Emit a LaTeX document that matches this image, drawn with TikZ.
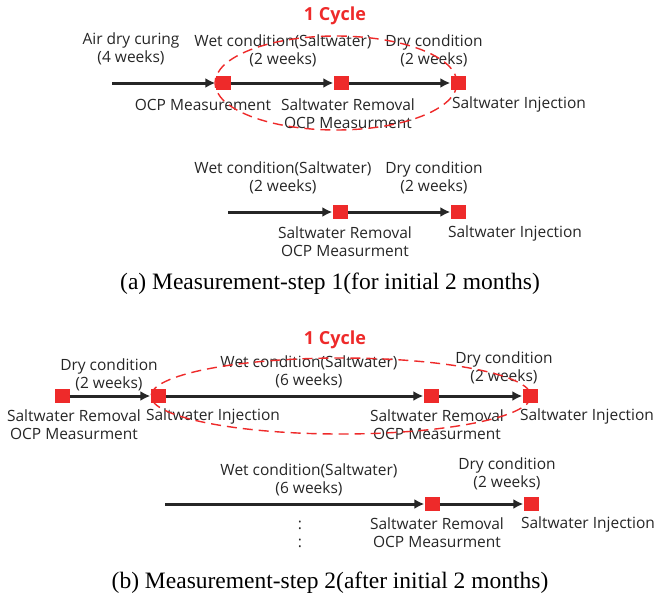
\documentclass[tikz,border=0pt]{standalone}
\usepackage{fontspec}
\setmainfont{Liberation Serif}
\setsansfont{Open Sans}
\usepackage{tikz}
\usetikzlibrary{arrows.meta}
\definecolor{ptred}{HTML}{EE2A2A}
\definecolor{txtgray}{HTML}{262626}

\begin{document}
\begin{tikzpicture}[x=1pt,y=-1pt]
\tikzstyle{every node}+=[inner sep=0pt]
\tikzstyle{pt}=[fill=ptred, minimum width=15pt, minimum height=14pt]
\tikzstyle{lbl}=[font=\sffamily\fontsize{15.5}{18}\selectfont, text=txtgray, align=center]
\tikzstyle{cyc}=[font=\sffamily\bfseries\fontsize{18}{20}\selectfont, text=ptred]
\tikzstyle{captext}=[font=\fontsize{23.5}{26}\selectfont]
\tikzstyle{flow}=[black!85, line width=3pt, -{Latex[length=10pt,width=10pt]}]
\tikzstyle{loopline}=[ptred, line width=1.4pt, dash pattern=on 10pt off 6pt]
\useasboundingbox (0,0) rectangle (663,602);

% (a) first row
\coordinate (a0) at (112,83);
\node[pt] (a1) at (223,83) {};
\node[pt] (a2) at (341,83) {};
\node[pt] (a3) at (458,83) {};
\draw[flow] (a0) -- (a1);
\draw[flow] (a1) -- (a2);
\draw[flow] (a2) -- (a3);
\node[lbl] (air) at (131,49) {Air dry curing\\(4 weeks)};
\node[lbl] (wetA) at (283,51) {Wet condition(Saltwater)\\(2 weeks)};
\node[lbl] (dryA) at (434,51) {Dry condition\\(2 weeks)};
\node[lbl] (ocpA) at (203,105) {OCP Measurement};
\node[lbl] (remA) at (348,114) {Saltwater Removal\\OCP Measurment};
\node[lbl] (injA) at (519,104) {Saltwater Injection};
\node[cyc] (cycA) at (335,16) {1 Cycle};
\draw[loopline] (336,83) ellipse [x radius=121, y radius=47];

% (a) second row
\coordinate (d0) at (228,212);
\node[pt] (d1) at (340,212) {};
\node[pt] (d2) at (458,212) {};
\draw[flow] (d0) -- (d1);
\draw[flow] (d1) -- (d2);
\node[lbl] (wetD) at (283,178) {Wet condition(Saltwater)\\(2 weeks)};
\node[lbl] (dryD) at (434,178) {Dry condition\\(2 weeks)};
\node[lbl] (remD) at (345,242) {Saltwater Removal\\OCP Measurment};
\node[lbl] (injD) at (515,233) {Saltwater Injection};
\node[captext] (capA) at (330,284) {(a) Measurement-step 1(for initial 2 months)};

% (b) first row
\node[pt] (b1) at (62,396) {};
\node[pt] (b2) at (158,396) {};
\node[pt] (b3) at (431,396) {};
\node[pt] (b4) at (530,396) {};
\draw[flow] (b1) -- (b2);
\draw[flow] (b2) -- (b3);
\draw[flow] (b3) -- (b4);
\node[lbl] (dryB0) at (109,375) {Dry condition\\(2 weeks)};
\node[lbl] (wetB) at (309,372) {Wet condition(Saltwater)\\(6 weeks)};
\node[lbl] (dryB) at (504,368) {Dry condition\\(2 weeks)};
\node[lbl] (remB0) at (74,425) {Saltwater Removal\\OCP Measurment};
\node[lbl] (injB0) at (213,416) {Saltwater Injection};
\node[lbl] (remB) at (437,425) {Saltwater Removal\\OCP Measurment};
\node[lbl] (injB) at (587,416) {Saltwater Injection};
\node[cyc] (cycB) at (335,340) {1 Cycle};
\draw[loopline] (341,396) ellipse [x radius=190, y radius=38];

% (b) second row
\coordinate (e0) at (165,504);
\node[pt] (e1) at (432,504) {};
\node[pt] (e2) at (531,504) {};
\draw[flow] (e0) -- (e1);
\draw[flow] (e1) -- (e2);
\node[lbl] (wetE) at (309,480) {Wet condition(Saltwater)\\(6 weeks)};
\node[lbl] (dryE) at (507,474) {Dry condition\\(2 weeks)};
\node[lbl] (remE) at (437,533) {Saltwater Removal\\OCP Measurment};
\node[lbl] (injE) at (588,524) {Saltwater Injection};
\node[lbl] (dots) at (300,534) {:\\:};
\node[captext] (capB) at (330,583) {(b) Measurement-step 2(after initial 2 months)};
\end{tikzpicture}
\end{document}
